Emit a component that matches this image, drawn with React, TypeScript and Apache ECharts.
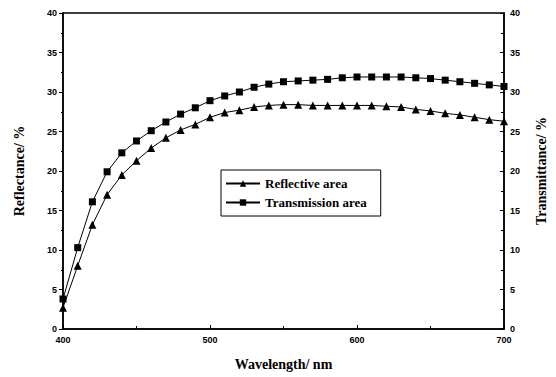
import React, { useEffect, useRef } from "react";
import * as echarts from "echarts";

const wavelengths = [400, 410, 420, 430, 440, 450, 460, 470, 480, 490, 500, 510, 520, 530, 540, 550, 560, 570, 580, 590, 600, 610, 620, 630, 640, 650, 660, 670, 680, 690, 700];
const reflective = [2.7, 8.0, 13.2, 17.0, 19.5, 21.3, 22.9, 24.2, 25.2, 25.9, 26.8, 27.4, 27.7, 28.1, 28.3, 28.4, 28.4, 28.3, 28.3, 28.3, 28.3, 28.3, 28.2, 28.1, 27.8, 27.6, 27.3, 27.1, 26.8, 26.5, 26.3];
const transmission = [3.8, 10.3, 16.1, 19.9, 22.3, 23.8, 25.1, 26.2, 27.2, 28.0, 28.9, 29.5, 30.0, 30.6, 31.0, 31.3, 31.4, 31.5, 31.6, 31.8, 31.9, 31.9, 31.9, 31.9, 31.8, 31.7, 31.5, 31.3, 31.1, 30.9, 30.7];

const titleFont = { fontFamily: "Liberation Serif", fontWeight: "bold" as const, fontSize: 14, color: "#000" };
const tickFont = { fontFamily: "Liberation Sans", fontWeight: "bold" as const, fontSize: 9, color: "#000" };

export default function App() {
  const ref = useRef<HTMLDivElement>(null);
  useEffect(() => {
    if (!ref.current) return;
    const chart = echarts.init(ref.current, null, { renderer: "svg" });
    const yAxisCommon = {
      type: "value" as const,
      min: 0,
      max: 40,
      interval: 5,
      splitLine: { show: false },
      axisLine: { show: true, lineStyle: { color: "#000", width: 1.5 } },
      axisTick: { show: true, length: 4, lineStyle: { color: "#000" } },
      minorTick: { show: true, splitNumber: 2, length: 2, lineStyle: { color: "#000" } },
      axisLabel: { ...tickFont, margin: 6 },
      nameLocation: "middle" as const,
      nameTextStyle: titleFont,
    };
    chart.setOption({
      animation: false,
      backgroundColor: "#fff",
      grid: { left: 63, right: 52, top: 13, bottom: 48, show: true, borderColor: "#000", borderWidth: 1.5, backgroundColor: "transparent" },
      legend: {
        orient: "vertical",
        left: 221,
        top: 170,
        width: 194,
        itemWidth: 34,
        itemHeight: 8,
        itemGap: 6,
        padding: [7, 14, 7, 4],
        borderColor: "#000",
        borderWidth: 1,
        backgroundColor: "#fff",
        textStyle: { fontFamily: "Liberation Serif", fontWeight: "bold", fontSize: 13, color: "#000" },
        data: ["Reflective area", "Transmission area"],
      },
      xAxis: {
        type: "value",
        min: 400,
        max: 700,
        interval: 100,
        name: "Wavelength/ nm",
        nameLocation: "middle",
        nameGap: 28,
        nameTextStyle: titleFont,
        splitLine: { show: false },
        axisLine: { show: true, lineStyle: { color: "#000", width: 1.5 } },
        axisTick: { show: true, inside: true, length: 4, lineStyle: { color: "#000" } },
        minorTick: { show: true, splitNumber: 2, length: 3, lineStyle: { color: "#000" } },
        axisLabel: { ...tickFont, margin: 6 },
      },
      yAxis: [
        { ...yAxisCommon, position: "left", name: "Reflectance/ %", nameGap: 37 },
        { ...yAxisCommon, position: "right", name: "Transmittance/ %", nameGap: 30, nameRotate: 90, axisTick: { show: true, inside: true, length: 4, lineStyle: { color: "#000" } }, minorTick: { show: true, splitNumber: 2, length: 3, lineStyle: { color: "#000" } } },
      ],
      series: [
        {
          name: "Reflective area",
          type: "line",
          yAxisIndex: 0,
          data: wavelengths.map((w, i) => [w, reflective[i]]),
          symbol: "triangle",
          symbolSize: 8,
          lineStyle: { color: "#000", width: 1 },
          itemStyle: { color: "#000" },
        },
        {
          name: "Transmission area",
          type: "line",
          yAxisIndex: 1,
          data: wavelengths.map((w, i) => [w, transmission[i]]),
          symbol: "rect",
          symbolSize: 7,
          lineStyle: { color: "#000", width: 1 },
          itemStyle: { color: "#000" },
        },
      ],
    });
    return () => chart.dispose();
  }, []);
  return <div ref={ref} style={{ position: "fixed", left: 0, top: 0, width: 556, height: 377, background: "#fff" }} />;
}
